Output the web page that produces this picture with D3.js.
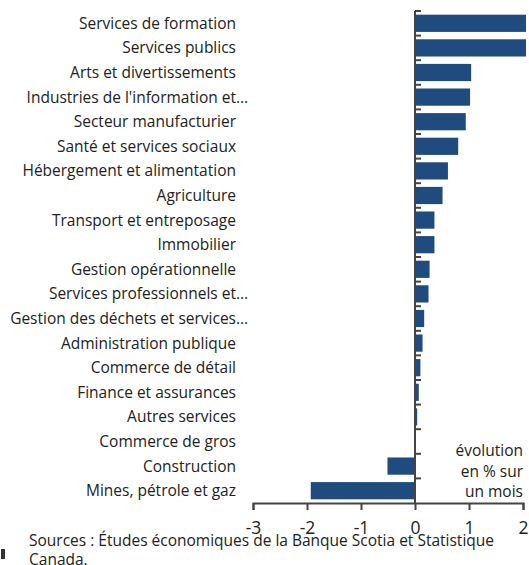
<!DOCTYPE html>
<html>
<head>
<meta charset="utf-8">
<script src="https://cdn.jsdelivr.net/npm/d3@7"></script>
<style>
  html, body { margin: 0; padding: 0; background: #fff; }
  svg { display: block; font-family: "Open Sans", "Noto Sans", sans-serif; }
</style>
</head>
<body>
<svg id="chart" width="529" height="565"></svg>
<script>
const categories = [
  "Services de formation",
  "Services publics",
  "Arts et divertissements",
  "Industries de l'information et…",
  "Secteur manufacturier",
  "Santé et services sociaux",
  "Hébergement et alimentation",
  "Agriculture",
  "Transport et entreposage",
  "Immobilier",
  "Gestion opérationnelle",
  "Services professionnels et…",
  "Gestion des déchets et services…",
  "Administration publique",
  "Commerce de détail",
  "Finance et assurances",
  "Autres services",
  "Commerce de gros",
  "Construction",
  "Mines, pétrole et gaz"
];
const values = [2.4, 2.3, 1.04, 1.02, 0.94, 0.80, 0.61, 0.51, 0.36, 0.36, 0.27, 0.25, 0.17, 0.14, 0.10, 0.07, 0.04, 0.01, -0.51, -1.93];
const xTicks = [-3, -2, -1, 0, 1, 2];
const unitLabel = ["évolution", "en % sur", "un mois"];
const sourceLines = ["Sources : Études économiques de la Banque Scotia et Statistique", "Canada."];

const svg = d3.select("#chart");
const barColor = "#1f4b7f";
const axisColor = "#444";
const textColor = "#222";

const x = d3.scaleLinear().domain([-3, 2]).range([253, 523]);
const y = d3.scaleBand().domain(categories).range([11, 503]).paddingInner(0.3).paddingOuter(0.15);

svg.append("defs").append("clipPath").attr("id", "plotclip")
  .append("rect").attr("x", 0).attr("y", 0).attr("width", 526).attr("height", 565);

// bars
svg.append("g").attr("clip-path", "url(#plotclip)")
  .selectAll("rect").data(values).join("rect")
  .attr("x", d => x(Math.min(0, d)))
  .attr("y", (d, i) => y(categories[i]))
  .attr("width", d => Math.abs(x(d) - x(0)))
  .attr("height", y.bandwidth())
  .attr("fill", barColor);

// category labels (ellipsis hangs past the right alignment edge)
const labelX = 236;
const lg = svg.append("g");
lg.selectAll("text.lab").data(categories).join("text")
  .attr("class", "lab")
  .attr("x", labelX)
  .attr("y", d => y(d) + y.bandwidth() / 2)
  .attr("dy", "0.35em")
  .attr("text-anchor", "end")
  .attr("font-size", 15.5)
  .attr("fill", textColor)
  .text(d => d.replace(/…$/, ""));
lg.selectAll("text.ell").data(categories.filter(d => d.endsWith("…"))).join("text")
  .attr("class", "ell")
  .attr("x", labelX)
  .attr("y", d => y(d) + y.bandwidth() / 2)
  .attr("dy", "0.35em")
  .attr("text-anchor", "start")
  .attr("font-size", 15.5)
  .attr("fill", textColor)
  .text("…");

// y axis line with ticks at band boundaries
const step = y.step();
const y0 = 11;
const yAxis = svg.append("g");
yAxis.append("line")
  .attr("x1", x(0)).attr("x2", x(0))
  .attr("y1", y0).attr("y2", 503)
  .attr("stroke", axisColor).attr("stroke-width", 2);
yAxis.selectAll("line.tk").data(d3.range(categories.length)).join("line")
  .attr("class", "tk")
  .attr("x1", x(0)).attr("x2", x(0) + 6)
  .attr("y1", i => y0 + i * step).attr("y2", i => y0 + i * step)
  .attr("stroke", axisColor).attr("stroke-width", 2);

// x axis
const xAxis = svg.append("g")
  .attr("transform", "translate(0,503)")
  .call(d3.axisBottom(x).tickValues(xTicks).tickSize(7).tickPadding(12).tickFormat(d3.format("d")));
xAxis.select(".domain").attr("stroke", axisColor).attr("stroke-width", 2);
xAxis.selectAll(".tick line").attr("stroke", axisColor).attr("stroke-width", 2);
xAxis.selectAll(".tick text")
  .attr("font-size", 17.5)
  .attr("font-family", "\"Open Sans\", \"Noto Sans\", sans-serif")
  .attr("fill", textColor)
  .text(d => d < 0 ? "-" + Math.abs(d) : d);

// unit label
svg.append("g").selectAll("text").data(unitLabel).join("text")
  .attr("x", 523)
  .attr("y", (d, i) => 451 + i * 20.5)
  .attr("dy", "0.35em")
  .attr("text-anchor", "end")
  .attr("font-size", 15.5)
  .attr("fill", textColor)
  .text(d => d);

// source
svg.append("g").selectAll("text").data(sourceLines).join("text")
  .attr("x", 29)
  .attr("y", (d, i) => 546 + i * 19)
  .attr("font-size", 15.5)
  .attr("fill", textColor)
  .text(d => d);

// small mark at bottom left
svg.append("rect").attr("x", 1).attr("y", 549).attr("width", 4).attr("height", 10).attr("fill", "#333");
</script>
</body>
</html>
